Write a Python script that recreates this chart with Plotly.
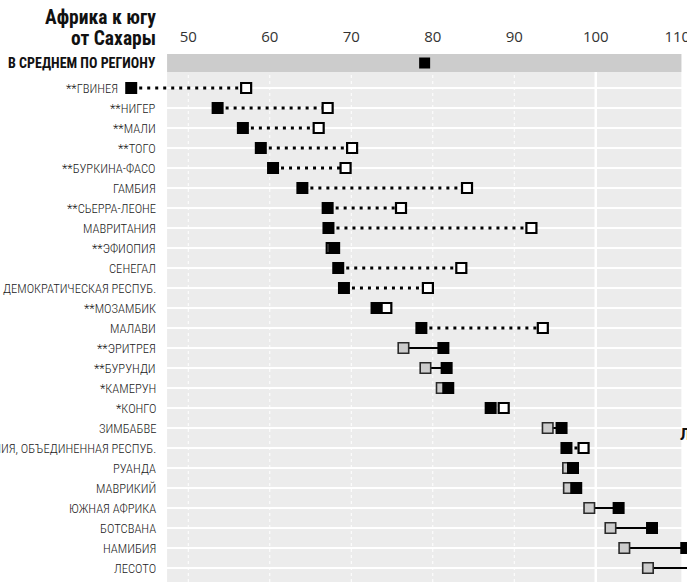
import plotly.graph_objects as go

# ---------------- data ----------------
countries = [
    "**ГВИНЕЯ", "**НИГЕР", "**МАЛИ", "**ТОГО", "**БУРКИНА-ФАСО", "ГАМБИЯ",
    "**СЬЕРРА-ЛЕОНЕ", "МАВРИТАНИЯ", "**ЭФИОПИЯ", "СЕНЕГАЛ",
    "ДЕМОКРАТИЧЕСКАЯ РЕСПУБ.", "**МОЗАМБИК", "МАЛАВИ", "**ЭРИТРЕЯ",
    "**БУРУНДИ", "*КАМЕРУН", "*КОНГО", "ЗИМБАБВЕ",
    "ТАНЗАНИЯ, ОБЪЕДИНЕННАЯ РЕСПУБ.", "РУАНДА", "МАВРИКИЙ", "ЮЖНАЯ АФРИКА",
    "БОТСВАНА", "НАМИБИЯ", "ЛЕСОТО",
]
value_black = [43.0, 53.6, 56.7, 58.9, 60.4, 64.0, 67.1, 67.2, 67.9, 68.4,
               69.1, 73.1, 78.6, 81.3, 81.7, 81.9, 87.1, 95.8, 96.4, 97.2,
               97.6, 102.8, 106.9, 111.1, 114.5]
value_other = [57.1, 67.1, 66.0, 70.1, 69.3, 84.2, 76.1, 92.1, 67.6, 83.5,
               79.4, 74.3, 93.5, 76.4, 79.1, 81.1, 88.7, 94.1, 98.5, 96.6,
               96.7, 99.2, 101.8, 103.5, 106.4]
# "white" = hollow marker with dotted connector, "gray" = gray marker with solid connector
other_kind = ["white"] * 13 + ["gray", "gray", "gray", "white", "gray", "white",
                               "gray", "gray", "gray", "gray", "gray", "gray"]
region_label = "В СРЕДНЕМ ПО РЕГИОНУ"
region_average = 79.0
x_ticks = [50, 60, 70, 80, 90, 100, 110]
title_lines = ["Африка к югу", "от Сахары"]

# ---------------- figure ----------------
rows = list(range(len(countries)))
avg_row = -1.25
PANEL_X0, PANEL_X1 = 47.4, 110.5     # grey panel extent (value scale)
X_RANGE = [26.9, 111.19]             # full figure width

FONT = "Roboto Condensed, Liberation Sans Narrow, DejaVu Sans Condensed, sans-serif"

fig = go.Figure()

# connectors
for kind, dash, width in [("white", "3px,5px", 3), ("gray", "solid", 2)]:
    xs, ys = [], []
    for r, a, b, k in zip(rows, value_black, value_other, other_kind):
        if k == kind:
            xs += [a, b, None]
            ys += [r, r, None]
    fig.add_trace(go.Scatter(x=xs, y=ys, mode="lines",
                             line=dict(color="black", width=width, dash=dash),
                             hoverinfo="skip", showlegend=False, cliponaxis=False))

# other markers
for kind, fill, lc, lw, size in [("white", "white", "black", 2.2, 10),
                                 ("gray", "#cccccc", "#2a2a2a", 1.6, 10.5)]:
    xs = [b for b, k in zip(value_other, other_kind) if k == kind]
    ys = [r for r, k in zip(rows, other_kind) if k == kind]
    fig.add_trace(go.Scatter(x=xs, y=ys, mode="markers",
                             marker=dict(symbol="square", size=size, color=fill,
                                         line=dict(color=lc, width=lw)),
                             showlegend=False, cliponaxis=False))

# black markers
fig.add_trace(go.Scatter(x=value_black, y=rows, mode="markers",
                         marker=dict(symbol="square", size=12, color="black",
                                     line=dict(width=0)),
                         showlegend=False, cliponaxis=False))
fig.add_trace(go.Scatter(x=[region_average], y=[avg_row], mode="markers",
                         marker=dict(symbol="square", size=11, color="black",
                                     line=dict(width=0)),
                         showlegend=False, cliponaxis=False))

shapes = [
    dict(type="rect", xref="x", yref="paper", x0=PANEL_X0, x1=PANEL_X1, y0=0, y1=1,
         fillcolor="#ececec", line=dict(width=0), layer="below"),
    dict(type="rect", xref="x", yref="y", x0=PANEL_X0, x1=PANEL_X1, y0=-1.7, y1=-0.8,
         fillcolor="#cccccc", line=dict(width=0), layer="below"),
]
for t in x_ticks:
    if t < 100:
        shapes.append(dict(type="line", xref="x", yref="paper", x0=t, x1=t, y0=0, y1=1,
                           line=dict(color="white", width=1, dash="dot"), layer="below"))
shapes.append(dict(type="line", xref="x", yref="paper", x0=100, x1=100, y0=0, y1=1,
                   line=dict(color="white", width=2.5), layer="below"))

annotations = [
    dict(text="<b>" + title_lines[0] + "</b>", xref="x", yref="paper", x=PANEL_X0, y=1.0682,
         xanchor="right", yanchor="middle", xshift=-9, showarrow=False,
         font=dict(family=FONT, size=19.5, color="#111")),
    dict(text="<b>" + title_lines[1] + "</b>", xref="x", yref="paper", x=PANEL_X0, y=1.0303,
         xanchor="right", yanchor="middle", xshift=-9, showarrow=False,
         font=dict(family=FONT, size=19.5, color="#111")),
    dict(text="<b>" + region_label + "</b>", xref="x", yref="y", x=PANEL_X0, y=avg_row,
         xanchor="right", yanchor="middle", xshift=-9, showarrow=False,
         font=dict(family=FONT, size=14, color="#111")),
    dict(text="<b>Латинская Америка</b>", xref="x", yref="paper", x=PANEL_X1, y=0.28,
         xanchor="left", yanchor="middle", xshift=-3, showarrow=False,
         font=dict(family=FONT, size=17, color="#111")),
    dict(text="<b>Океания</b>", xref="x", yref="paper", x=PANEL_X1, y=0.483,
         xanchor="left", yanchor="middle", xshift=4, showarrow=False,
         font=dict(family=FONT, size=17, color="#888")),
]
for r, name, vb in zip(rows, countries, value_black):
    # a label moves left of its marker when the marker lies left of the panel
    if vb < PANEL_X0:
        ax, sh = vb, -11
    else:
        ax, sh = PANEL_X0, -9
    annotations.append(dict(text=name, xref="x", yref="y", x=ax, y=r,
                            xanchor="right", yanchor="middle", xshift=sh, showarrow=False,
                            font=dict(family=FONT, size=12.6, color="#1a1a1a", weight=300)))

fig.update_layout(
    width=687, height=582,
    margin=dict(l=0, r=0, t=54, b=0),
    paper_bgcolor="white", plot_bgcolor="white",
    shapes=shapes, annotations=annotations,
    showlegend=False,
    xaxis=dict(range=X_RANGE, side="top", tickvals=x_ticks,
               showgrid=False, zeroline=False, showline=False, ticks="",
               tickfont=dict(family="Open Sans, sans-serif", size=15, color="#333"),
               ticklabelstandoff=8, ticklabeloverflow="allow",
               fixedrange=True, automargin=False),
    yaxis=dict(range=[24.7, -1.7], tickvals=rows, showticklabels=False,
               showgrid=True, gridcolor="white", gridwidth=1.5,
               zeroline=False, showline=False, ticks="",
               fixedrange=True, automargin=False),
)

fig.write_html("out.html", post_script="document.body.style.margin='0';",
               config={"displayModeBar": False})
